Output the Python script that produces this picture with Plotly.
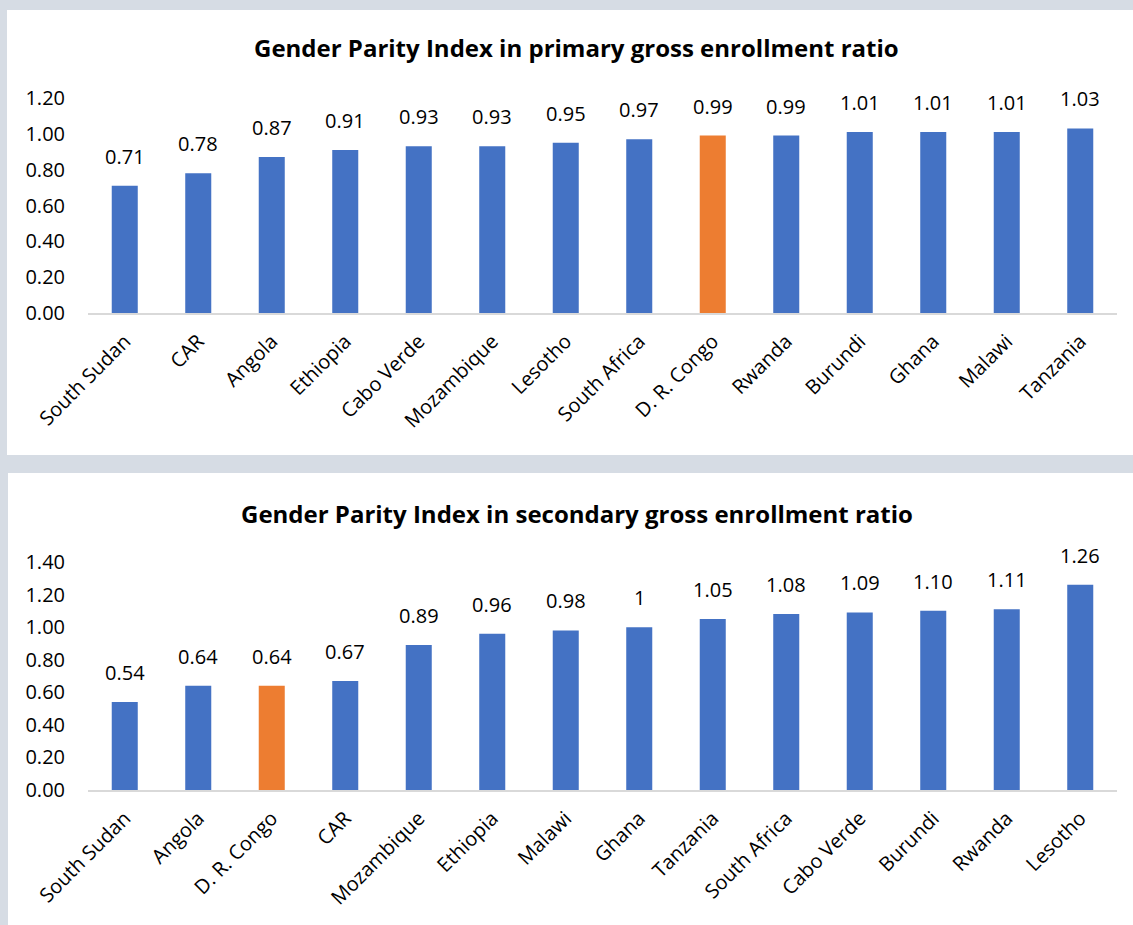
import plotly.graph_objects as go

W, H = 1133, 925

# ---------------- data ----------------
primary_countries = ["South Sudan", "CAR", "Angola", "Ethiopia", "Cabo Verde", "Mozambique",
                     "Lesotho", "South Africa", "D. R. Congo", "Rwanda", "Burundi", "Ghana",
                     "Malawi", "Tanzania"]
primary_values = [0.71, 0.78, 0.87, 0.91, 0.93, 0.93, 0.95, 0.97, 0.99, 0.99, 1.01, 1.01, 1.01, 1.03]
primary_labels = ["0.71", "0.78", "0.87", "0.91", "0.93", "0.93", "0.95", "0.97", "0.99", "0.99",
                  "1.01", "1.01", "1.01", "1.03"]

secondary_countries = ["South Sudan", "Angola", "D. R. Congo", "CAR", "Mozambique", "Ethiopia",
                       "Malawi", "Ghana", "Tanzania", "South Africa", "Cabo Verde", "Burundi",
                       "Rwanda", "Lesotho"]
secondary_values = [0.54, 0.64, 0.64, 0.67, 0.89, 0.96, 0.98, 1.00, 1.05, 1.08, 1.09, 1.10, 1.11, 1.26]
secondary_labels = ["0.54", "0.64", "0.64", "0.67", "0.89", "0.96", "0.98", "1", "1.05", "1.08",
                    "1.09", "1.10", "1.11", "1.26"]

highlight = "D. R. Congo"
primary_title = "Gender Parity Index in primary gross enrollment ratio"
secondary_title = "Gender Parity Index in secondary gross enrollment ratio"

BLUE = "#4472C4"
ORANGE = "#ED7D31"
BG = "#D6DCE4"
FONT = "'Open Sans', Lato, sans-serif"


def py(p):
    return 1 - p / H


def px(p):
    return p / W


fig = go.Figure()

fig.add_trace(go.Bar(
    x=primary_countries, y=primary_values,
    marker=dict(color=[ORANGE if c == highlight else BLUE for c in primary_countries], line=dict(width=0)),
    xaxis="x", yaxis="y", hoverinfo="x+y", showlegend=False))
fig.add_trace(go.Bar(
    x=secondary_countries, y=secondary_values,
    marker=dict(color=[ORANGE if c == highlight else BLUE for c in secondary_countries], line=dict(width=0)),
    xaxis="x2", yaxis="y2", hoverinfo="x+y", showlegend=False))

annotations = []
for c, v, t in zip(primary_countries, primary_values, primary_labels):
    annotations.append(dict(x=c, y=v, xref="x", yref="y", text=t, showarrow=False,
                            yanchor="bottom", yshift=14, font=dict(size=20, color="#000000", family=FONT)))
for c, v, t in zip(secondary_countries, secondary_values, secondary_labels):
    annotations.append(dict(x=c, y=v, xref="x2", yref="y2", text=t, showarrow=False,
                            yanchor="bottom", yshift=14, font=dict(size=20, color="#000000", family=FONT)))

annotations.append(dict(x=px(576), y=py(47), xref="paper", yref="paper", text="<b>" + primary_title + "</b>",
                        showarrow=False, xanchor="center", yanchor="middle",
                        font=dict(size=24, color="#000000", family=FONT)))
annotations.append(dict(x=px(577), y=py(513), xref="paper", yref="paper", text="<b>" + secondary_title + "</b>",
                        showarrow=False, xanchor="center", yanchor="middle",
                        font=dict(size=24, color="#000000", family=FONT)))

shapes = [
    dict(type="rect", xref="paper", yref="paper", x0=px(7), x1=1.0, y0=py(455), y1=py(10),
         fillcolor="white", line=dict(width=0), layer="below"),
    dict(type="rect", xref="paper", yref="paper", x0=px(8), x1=1.0, y0=py(925), y1=py(473),
         fillcolor="white", line=dict(width=0), layer="below"),
]

xaxis_common = dict(showgrid=False, zeroline=False, showline=True, linecolor="#D9D9D9", linewidth=1.5,
                    tickangle=-45, ticks="", tickfont=dict(size=20, color="#000000", family=FONT),
                    ticklabelstandoff=7, automargin=False, fixedrange=True)
yaxis_common = dict(showgrid=False, zeroline=False, showline=False, ticks="", tickformat=".2f",
                    dtick=0.2, tickfont=dict(size=20, color="#000000", family=FONT),
                    ticklabelstandoff=22, automargin=False, fixedrange=True)

fig.update_layout(
    width=W, height=H,
    margin=dict(l=0, r=0, t=0, b=0, autoexpand=False),
    paper_bgcolor=BG, plot_bgcolor="rgba(0,0,0,0)",
    bargap=0.646,
    font=dict(family=FONT, color="#000000"),
    xaxis=dict(domain=[px(88), px(1117)], anchor="y", **xaxis_common),
    yaxis=dict(domain=[py(313), py(98)], anchor="x", range=[0, 1.2], **yaxis_common),
    xaxis2=dict(domain=[px(88), px(1117)], anchor="y2", **xaxis_common),
    yaxis2=dict(domain=[py(790), py(562)], anchor="x2", range=[0, 1.4], **yaxis_common),
    annotations=annotations,
    shapes=shapes,
)

fig.write_html("out.html")
